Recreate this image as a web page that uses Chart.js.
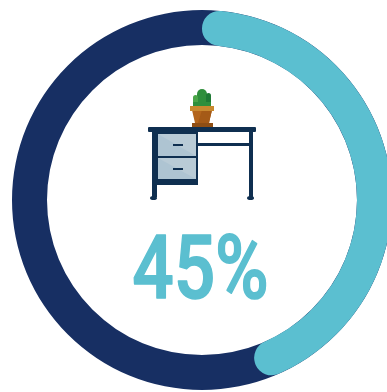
<!DOCTYPE html>
<html>
<head>
<meta charset="utf-8">
<style>
  html, body { margin: 0; height: 100%; background: #fff; overflow: hidden; }
  #stage { position: relative; width: 387px; height: 392px; overflow: hidden; }
  canvas { position: absolute; left: 12px; top: 10px; }
  #desk { position: absolute; left: 0; top: 0; }
</style>
<script src="https://cdn.jsdelivr.net/npm/chart.js@4"></script>
</head>
<body>
<div id="stage">
  <canvas id="ringBack" width="380" height="380"></canvas>
  <canvas id="ringFront" width="380" height="380"></canvas>
  <svg id="desk" width="387" height="392">
    <!-- cactus -->
    <rect x="197" y="89" width="10" height="18" rx="5" fill="#2f8f3c"/>
    <rect x="193" y="95" width="5" height="11" rx="2.5" fill="#4aa548"/>
    <rect x="206" y="93" width="5" height="13" rx="2.5" fill="#1f7a35"/>
    <rect x="193" y="102" width="18" height="4" fill="#2f8f3c"/>
    <!-- pot -->
    <polygon points="192,110 212,110 209,123 195,123" fill="#b4651c"/>
    <polygon points="202,110 212,110 209,123 198,123" fill="#a55a17"/>
    <rect x="190" y="106" width="24" height="5" fill="#c9892f"/>
    <rect x="192" y="123" width="21" height="4" fill="#8f4e14"/>
    <!-- legs and top -->
    <rect x="152" y="130" width="5" height="67" fill="#0f2f50"/>
    <rect x="249" y="130" width="4" height="67" fill="#0f2f50"/>
    <ellipse cx="153.500" cy="198" rx="3.500" ry="2" fill="#0f2f50"/>
    <ellipse cx="250.500" cy="198" rx="3.500" ry="2" fill="#0f2f50"/>
    <rect x="148" y="127" width="108" height="5" rx="1" fill="#0f2f50"/>
    <rect x="198" y="143" width="52" height="3" fill="#0f2f50"/>
    <!-- drawers -->
    <rect x="152" y="132" width="46" height="53" fill="#0f2f50"/>
    <rect x="158" y="134" width="38" height="22" fill="#b9cbd6"/>
    <polygon points="158,134 196,156 158,156" fill="#aec4d2"/>
    <rect x="158" y="158" width="38" height="21" fill="#b9cbd6"/>
    <polygon points="158,158 196,179 158,179" fill="#aec4d2"/>
    <rect x="173" y="144" width="10" height="2" fill="#0f2f50"/>
    <rect x="173" y="168" width="10" height="2" fill="#0f2f50"/>
  </svg>
</div>
<script>
var categories = ['Done', 'Remaining'];
var values = [45, 55];
var wholeRing = [100];

var navy = '#172f63';
var teal = '#5bbfd0';

// percentage printed under the desk, from the first value
var percentLabel = {
  id: 'percentLabel',
  afterDraw: function (chart) {
    var ctx = chart.ctx;
    ctx.save();
    ctx.fillStyle = teal;
    ctx.strokeStyle = teal;
    ctx.lineWidth = 1.5;
    ctx.lineJoin = 'round';
    ctx.textAlign = 'center';
    ctx.textBaseline = 'alphabetic';
    ctx.font = '500 89px Roboto, sans-serif';
    ctx.translate(188.5, 288);
    ctx.scale(0.82, 1);
    ctx.fillText(values[0] + '%', 0, 0);
    ctx.strokeText(values[0] + '%', 0, 0);
    ctx.restore();
  }
};

function ringOptions() {
  return {
    responsive: false,
    animation: false,
    cutout: 155,
    layout: { padding: 0 },
    plugins: { legend: { display: false }, tooltip: { enabled: false } }
  };
}

new Chart(document.getElementById('ringBack').getContext('2d'), {
  type: 'doughnut',
  data: {
    labels: ['Total'],
    datasets: [{ data: wholeRing, backgroundColor: [navy], borderWidth: 0 }]
  },
  options: ringOptions()
});

new Chart(document.getElementById('ringFront').getContext('2d'), {
  type: 'doughnut',
  data: {
    labels: categories,
    datasets: [{
      data: values,
      backgroundColor: [teal, 'rgba(0,0,0,0)'],
      borderWidth: 0,
      borderRadius: 17.5
    }]
  },
  options: ringOptions(),
  plugins: [percentLabel]
});
</script>
</body>
</html>
